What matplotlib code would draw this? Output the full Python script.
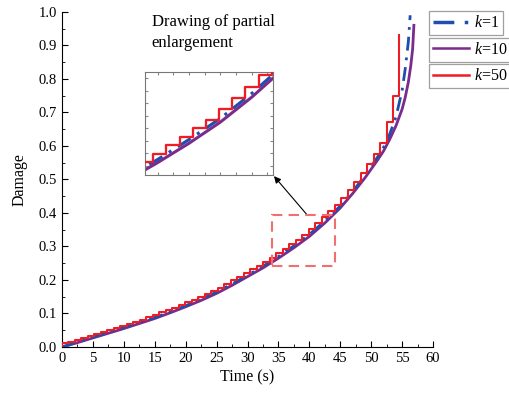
import matplotlib
matplotlib.use("Agg")
import matplotlib.pyplot as plt
from matplotlib.patches import Rectangle
from matplotlib.lines import Line2D
from matplotlib.ticker import MultipleLocator, FormatStrFormatter

plt.rcParams["font.family"] = ["Liberation Serif", "DejaVu Serif"]
plt.rcParams["mathtext.fontset"] = "custom"
plt.rcParams["mathtext.it"] = "Liberation Serif:italic"
plt.rcParams["mathtext.rm"] = "Liberation Serif"

# k=10 (smooth curve)
k10_time = [0, 2.5, 5, 7.5, 10, 12.5, 15, 17.5, 20, 22.5, 25, 27.5, 30, 32.5, 35, 37.5,
            40, 42.5, 45, 47, 49, 51, 52, 53, 54, 55, 55.5, 56, 56.4, 56.7, 56.9]
k10_damage = [0, 0.013, 0.027, 0.041, 0.055, 0.070, 0.085, 0.102, 0.120, 0.139, 0.160, 0.184,
              0.210, 0.236, 0.265, 0.296, 0.330, 0.370, 0.415, 0.458, 0.505, 0.557, 0.585,
              0.620, 0.660, 0.710, 0.745, 0.790, 0.840, 0.890, 0.960]

# k=1
k1_time = [0, 2.5, 5, 7.5, 10, 12.5, 15, 17.5, 20, 22.5, 25, 27.5, 30, 32.5, 35, 37.5,
           40, 42.5, 45, 47, 49, 51, 52, 53, 54, 55, 55.5, 56, 56.3]
k1_damage = [0, 0.014, 0.029, 0.043, 0.058, 0.073, 0.088, 0.105, 0.123, 0.143, 0.164, 0.188,
             0.214, 0.241, 0.270, 0.302, 0.336, 0.376, 0.421, 0.464, 0.512, 0.566, 0.596,
             0.636, 0.686, 0.766, 0.830, 0.910, 0.990]

# k=50 (block steps)
k50_time = [0, 0, 1.05, 2.1, 3.15, 4.2, 5.25, 6.3, 7.35, 8.4, 9.45, 10.5, 11.55, 12.6, 13.65,
            14.7, 15.75, 16.8, 17.85, 18.9, 19.95, 21.0, 22.05, 23.1, 24.15, 25.2, 26.25,
            27.3, 28.35, 29.4, 30.45, 31.5, 32.55, 33.6, 34.65, 35.7, 36.75, 37.8, 38.85,
            39.9, 40.95, 42.0, 43.05, 44.1, 45.15, 46.2, 47.25, 48.3, 49.35, 50.4, 51.45,
            52.5, 53.55, 54.5]
k50_damage = [0, 0.011, 0.016, 0.022, 0.028, 0.033, 0.039, 0.045, 0.051, 0.057, 0.063, 0.069,
              0.076, 0.082, 0.088, 0.095, 0.103, 0.110, 0.117, 0.125, 0.133, 0.141, 0.150,
              0.158, 0.167, 0.177, 0.188, 0.199, 0.209, 0.220, 0.232, 0.243, 0.255, 0.266,
              0.279, 0.293, 0.306, 0.320, 0.334, 0.351, 0.369, 0.387, 0.405, 0.423, 0.446,
              0.469, 0.493, 0.519, 0.546, 0.575, 0.608, 0.67, 0.75, 0.93]

legend_labels = ["$k$=1", "$k$=10", "$k$=50"]

c_blue = "#1f4fae"
c_purple = "#7a2b8c"
c_red = "#ee1c25"
blue_ls = (0, (5, 2.5, 1, 2.5))


def draw_curves(ax, lw_scale=1.0):
    ax.plot(k10_time, k10_damage, color=c_purple, lw=2.0 * lw_scale, zorder=2)
    ax.plot(k1_time, k1_damage, color=c_blue, lw=2.0 * lw_scale, ls=blue_ls, zorder=3)
    ax.plot(k50_time, k50_damage, color=c_red, lw=1.5 * lw_scale, drawstyle="steps-post", zorder=4)


fig = plt.figure(figsize=(5.09, 3.97), dpi=100)
ax = fig.add_axes([0.1218, 0.126, 0.729, 0.844])
draw_curves(ax)

ax.set_xlim(0, 60)
ax.set_ylim(0, 1.0)
ax.xaxis.set_major_locator(MultipleLocator(5))
ax.xaxis.set_minor_locator(MultipleLocator(2.5))
ax.yaxis.set_major_locator(MultipleLocator(0.1))
ax.yaxis.set_minor_locator(MultipleLocator(0.05))
ax.yaxis.set_major_formatter(FormatStrFormatter("%.1f"))
ax.tick_params(which="both", direction="in", labelsize=10.5)
ax.tick_params(which="major", length=4)
ax.tick_params(which="minor", length=2.5)
ax.spines["top"].set_visible(False)
ax.spines["right"].set_visible(False)
ax.set_xlabel("Time (s)", fontsize=11.5, labelpad=3)
ax.set_ylabel("Damage", fontsize=11.5, labelpad=8)

# zoom window
ax.add_patch(Rectangle((34.0, 0.242), 10.2, 0.152, fill=False, ec="#f07070",
                       ls=(0, (5, 3)), lw=1.5, zorder=5))

# inset
axins = fig.add_axes([0.285, 0.559, 0.2515, 0.259])
draw_curves(axins, 1.1)
axins.set_xlim(34.0, 44.2)
axins.set_ylim(0.245, 0.41)
axins.tick_params(which="both", direction="in", length=2.5, top=True, right=True,
                  labelbottom=False, labelleft=False, color="#888888")
axins.xaxis.set_major_locator(MultipleLocator(1.25))
axins.yaxis.set_major_locator(MultipleLocator(0.02))
for s in axins.spines.values():
    s.set_color("#777777")
    s.set_linewidth(0.8)

ax.annotate("", xy=(1, 0), xycoords=axins.transAxes, xytext=(39.6, 0.395),
            textcoords="data",
            arrowprops=dict(arrowstyle="-|>", color="black", lw=0.8, mutation_scale=10,
                            shrinkA=0, shrinkB=1))

fig.text(0.298, 0.965, "Drawing of partial\nenlargement", fontsize=12,
         va="top", ha="left", linespacing=1.4)

# legend: three separate boxes
handles = [Line2D([], [], color=c_blue, lw=2.5, ls=(0, (6, 3, 1, 3))),
           Line2D([], [], color=c_purple, lw=1.8),
           Line2D([], [], color=c_red, lw=1.8)]
tops = [0.972, 0.905, 0.838]
for h, lab, top in zip(handles, legend_labels, tops):
    lg = fig.legend([h], [lab], loc="upper left", bbox_to_anchor=(0.842, top),
                    fontsize=11.5, frameon=True, fancybox=False, edgecolor="#888888",
                    handlelength=2.3, handletextpad=0.3, borderpad=0.25,
                    borderaxespad=0)
    lg.get_frame().set_linewidth(0.9)

fig.savefig("out.png", dpi=100)
